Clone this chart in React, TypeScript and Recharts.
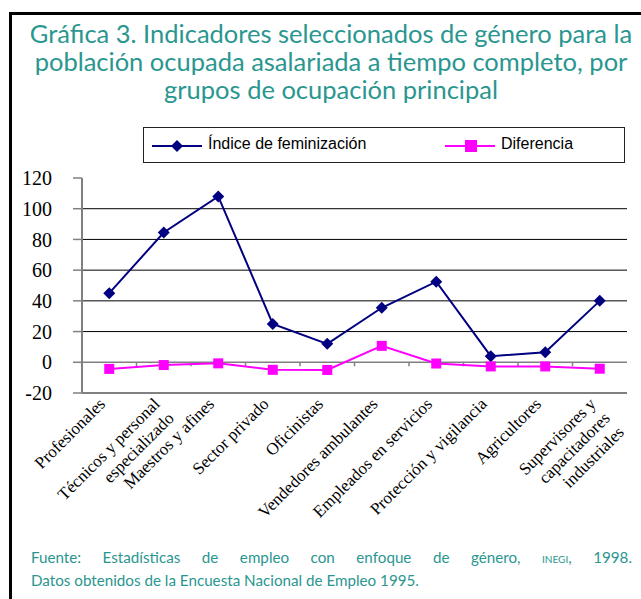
import React from "react"
import { LineChart, Line, XAxis, YAxis, CartesianGrid, ReferenceLine, Legend } from "recharts"

const categories = [
  "Profesionales",
  "Técnicos y personal\nespecializado",
  "Maestros y afines",
  "Sector privado",
  "Oficinistas",
  "Vendedores ambulantes",
  "Empleados en servicios",
  "Protección y vigilancia",
  "Agricultores",
  "Supervisores y\ncapacitadores\nindustriales",
]
const feminizacion = [45, 84.5, 108, 25, 12, 35.5, 52.5, 4, 6.5, 40]
const diferencia = [-4.3, -1.8, -0.7, -4.9, -5, 10.7, -0.8, -2.7, -2.7, -4.2]
const yTicks = [-20, 0, 20, 40, 60, 80, 100, 120]
const gridValues = [20, 40, 60, 80, 100]

const NAVY = "#000080"
const MAGENTA = "#ff00ff"
const GRAY = "#808080"
const TEAL = "#2a9690"
const SERIF = "'Liberation Serif', 'Times New Roman', serif"
const SANS = "'Liberation Sans', Arial, sans-serif"
const TITLE_FONT = "Lato, 'Open Sans', sans-serif"

const data = categories.map((name, i) => ({ name, fem: feminizacion[i], dif: diferencia[i] }))

const Diamond = (p: any) => {
  const { cx, cy, index } = p
  if (cx == null || cy == null) return <g key={index} />
  const r = 6
  return <path key={index} d={`M${cx},${cy - r}L${cx + r},${cy}L${cx},${cy + r}L${cx - r},${cy}Z`} fill={NAVY} />
}

const Square = (p: any) => {
  const { cx, cy, index } = p
  if (cx == null || cy == null) return <g key={index} />
  return <rect key={index} x={cx - 5} y={cy - 5} width={10} height={10} fill={MAGENTA} />
}

const CategoryTick = (p: any) => {
  const { x, y, payload } = p
  const lines = String(payload.value).split("\n")
  return (
    <g transform={`translate(${x - 3},${y + 4}) rotate(-45)`}>
      <text textAnchor="end" fontFamily={SERIF} fontSize={17} fill="#000">
        {lines.map((l, i) => (
          <tspan key={i} x={0} dy={i === 0 ? 0 : 20}>{l}</tspan>
        ))}
      </text>
    </g>
  )
}

// zero line drawn in gray with small ticks between categories
const ZeroLine = (p: any) => {
  const { x1, y1, x2, y2 } = p
  const n = categories.length
  const step = (x2 - x1) / n
  return (
    <g>
      <line x1={x1} y1={y1} x2={x2} y2={y2} stroke={GRAY} strokeWidth={1.5} />
      {Array.from({ length: n - 1 }, (_, i) => (
        <line key={i} x1={x1 + step * (i + 1)} x2={x1 + step * (i + 1)} y1={y1} y2={y1 + 4} stroke={GRAY} strokeWidth={1.5} />
      ))}
    </g>
  )
}

const legendSpots: Record<string, number> = { fem: 8, dif: 301 }

const LegendBox = (props: any) => {
  const items = props.payload || []
  return (
    <div style={{ position: "relative", width: 482, height: 36, border: "1px solid #222", boxSizing: "border-box", background: "#fff" }}>
      {items.map((it: any) => (
        <div key={it.value} style={{ position: "absolute", left: legendSpots[it.dataKey], top: 0, height: 34, display: "flex", alignItems: "center", whiteSpace: "nowrap" }}>
          <svg width={52} height={16}>
            <line x1={0} x2={50} y1={9} y2={9} stroke={it.color} strokeWidth={2} />
            {it.dataKey === "fem"
              ? <path d="M25,3L31,9L25,15L19,9Z" fill={NAVY} />
              : <rect x={20} y={3} width={12} height={12} fill={MAGENTA} />}
          </svg>
          <span style={{ fontFamily: SANS, fontSize: 16, color: "#000", marginLeft: 4, marginTop: -3 }}>{it.value}</span>
        </div>
      ))}
    </div>
  )
}

export default function App() {
  return (
    <div style={{ position: "absolute", left: 0, top: 0, width: 641, height: 599, overflow: "hidden", background: "#fff" }}>
      <div style={{ position: "absolute", left: 9, top: 12, width: 700, height: 700, borderTop: "3px solid #000", borderLeft: "3px solid #000" }} />
      <div style={{ position: "absolute", left: 10, top: 19, width: 642, textAlign: "center", fontFamily: TITLE_FONT, fontSize: 25.5, lineHeight: "28px", color: TEAL, whiteSpace: "nowrap" }}>
        Gráfica 3. Indicadores seleccionados de género para la<br />
        población ocupada asalariada a tiempo completo, por<br />
        grupos de ocupación principal
      </div>

      <div style={{ position: "absolute", left: 0, top: 0 }}>
        <LineChart width={641} height={599} data={data} margin={{ top: 178, right: 14, bottom: 176, left: 22 }}>
          <CartesianGrid vertical={false} horizontalValues={gridValues} stroke="#000" strokeWidth={1} />
          <XAxis dataKey="name" scale="band" interval={0} tickLine={false} axisLine={{ stroke: GRAY, strokeWidth: 2 }} tick={<CategoryTick />} height={30} />
          <XAxis xAxisId="top" dataKey="name" scale="band" orientation="top" height={0} tick={false} tickLine={false} axisLine={{ stroke: GRAY, strokeWidth: 2 }} />
          <YAxis domain={[-20, 120]} ticks={yTicks} interval={0} width={60} tickSize={9} tickMargin={21}
            tickLine={{ stroke: GRAY, strokeWidth: 1.5 }} axisLine={{ stroke: GRAY, strokeWidth: 2 }}
            tick={{ fontFamily: SERIF, fontSize: 20, fill: "#000" }} />
          <YAxis yAxisId="right" orientation="right" domain={[-20, 120]} width={0} tick={false} tickLine={false} axisLine={{ stroke: GRAY, strokeWidth: 2 }} />
          <ReferenceLine y={0} shape={ZeroLine} />
          <Legend layout="horizontal" verticalAlign="middle" align="center" content={<LegendBox />}
            wrapperStyle={{ position: "absolute", left: 143, top: 127, width: 482, height: 36 }} />
          <Line type="linear" dataKey="fem" name="Índice de feminización" stroke={NAVY} strokeWidth={2} dot={Diamond} activeDot={false} isAnimationActive={false} />
          <Line type="linear" dataKey="dif" name="Diferencia" stroke={MAGENTA} strokeWidth={2} dot={Square} activeDot={false} isAnimationActive={false} />
        </LineChart>
      </div>

      <div style={{ position: "absolute", left: 31, top: 547, width: 601, fontFamily: TITLE_FONT, fontSize: 15.2, lineHeight: "21px", color: TEAL }}>
        <div style={{ textAlign: "justify", textAlignLast: "justify" }}>
          Fuente: Estadísticas de empleo con enfoque de género, <span style={{ fontSize: 10 }}>INEGI</span>, 1998.
        </div>
        <div>Datos obtenidos de la Encuesta Nacional de Empleo 1995.</div>
      </div>
    </div>
  )
}
